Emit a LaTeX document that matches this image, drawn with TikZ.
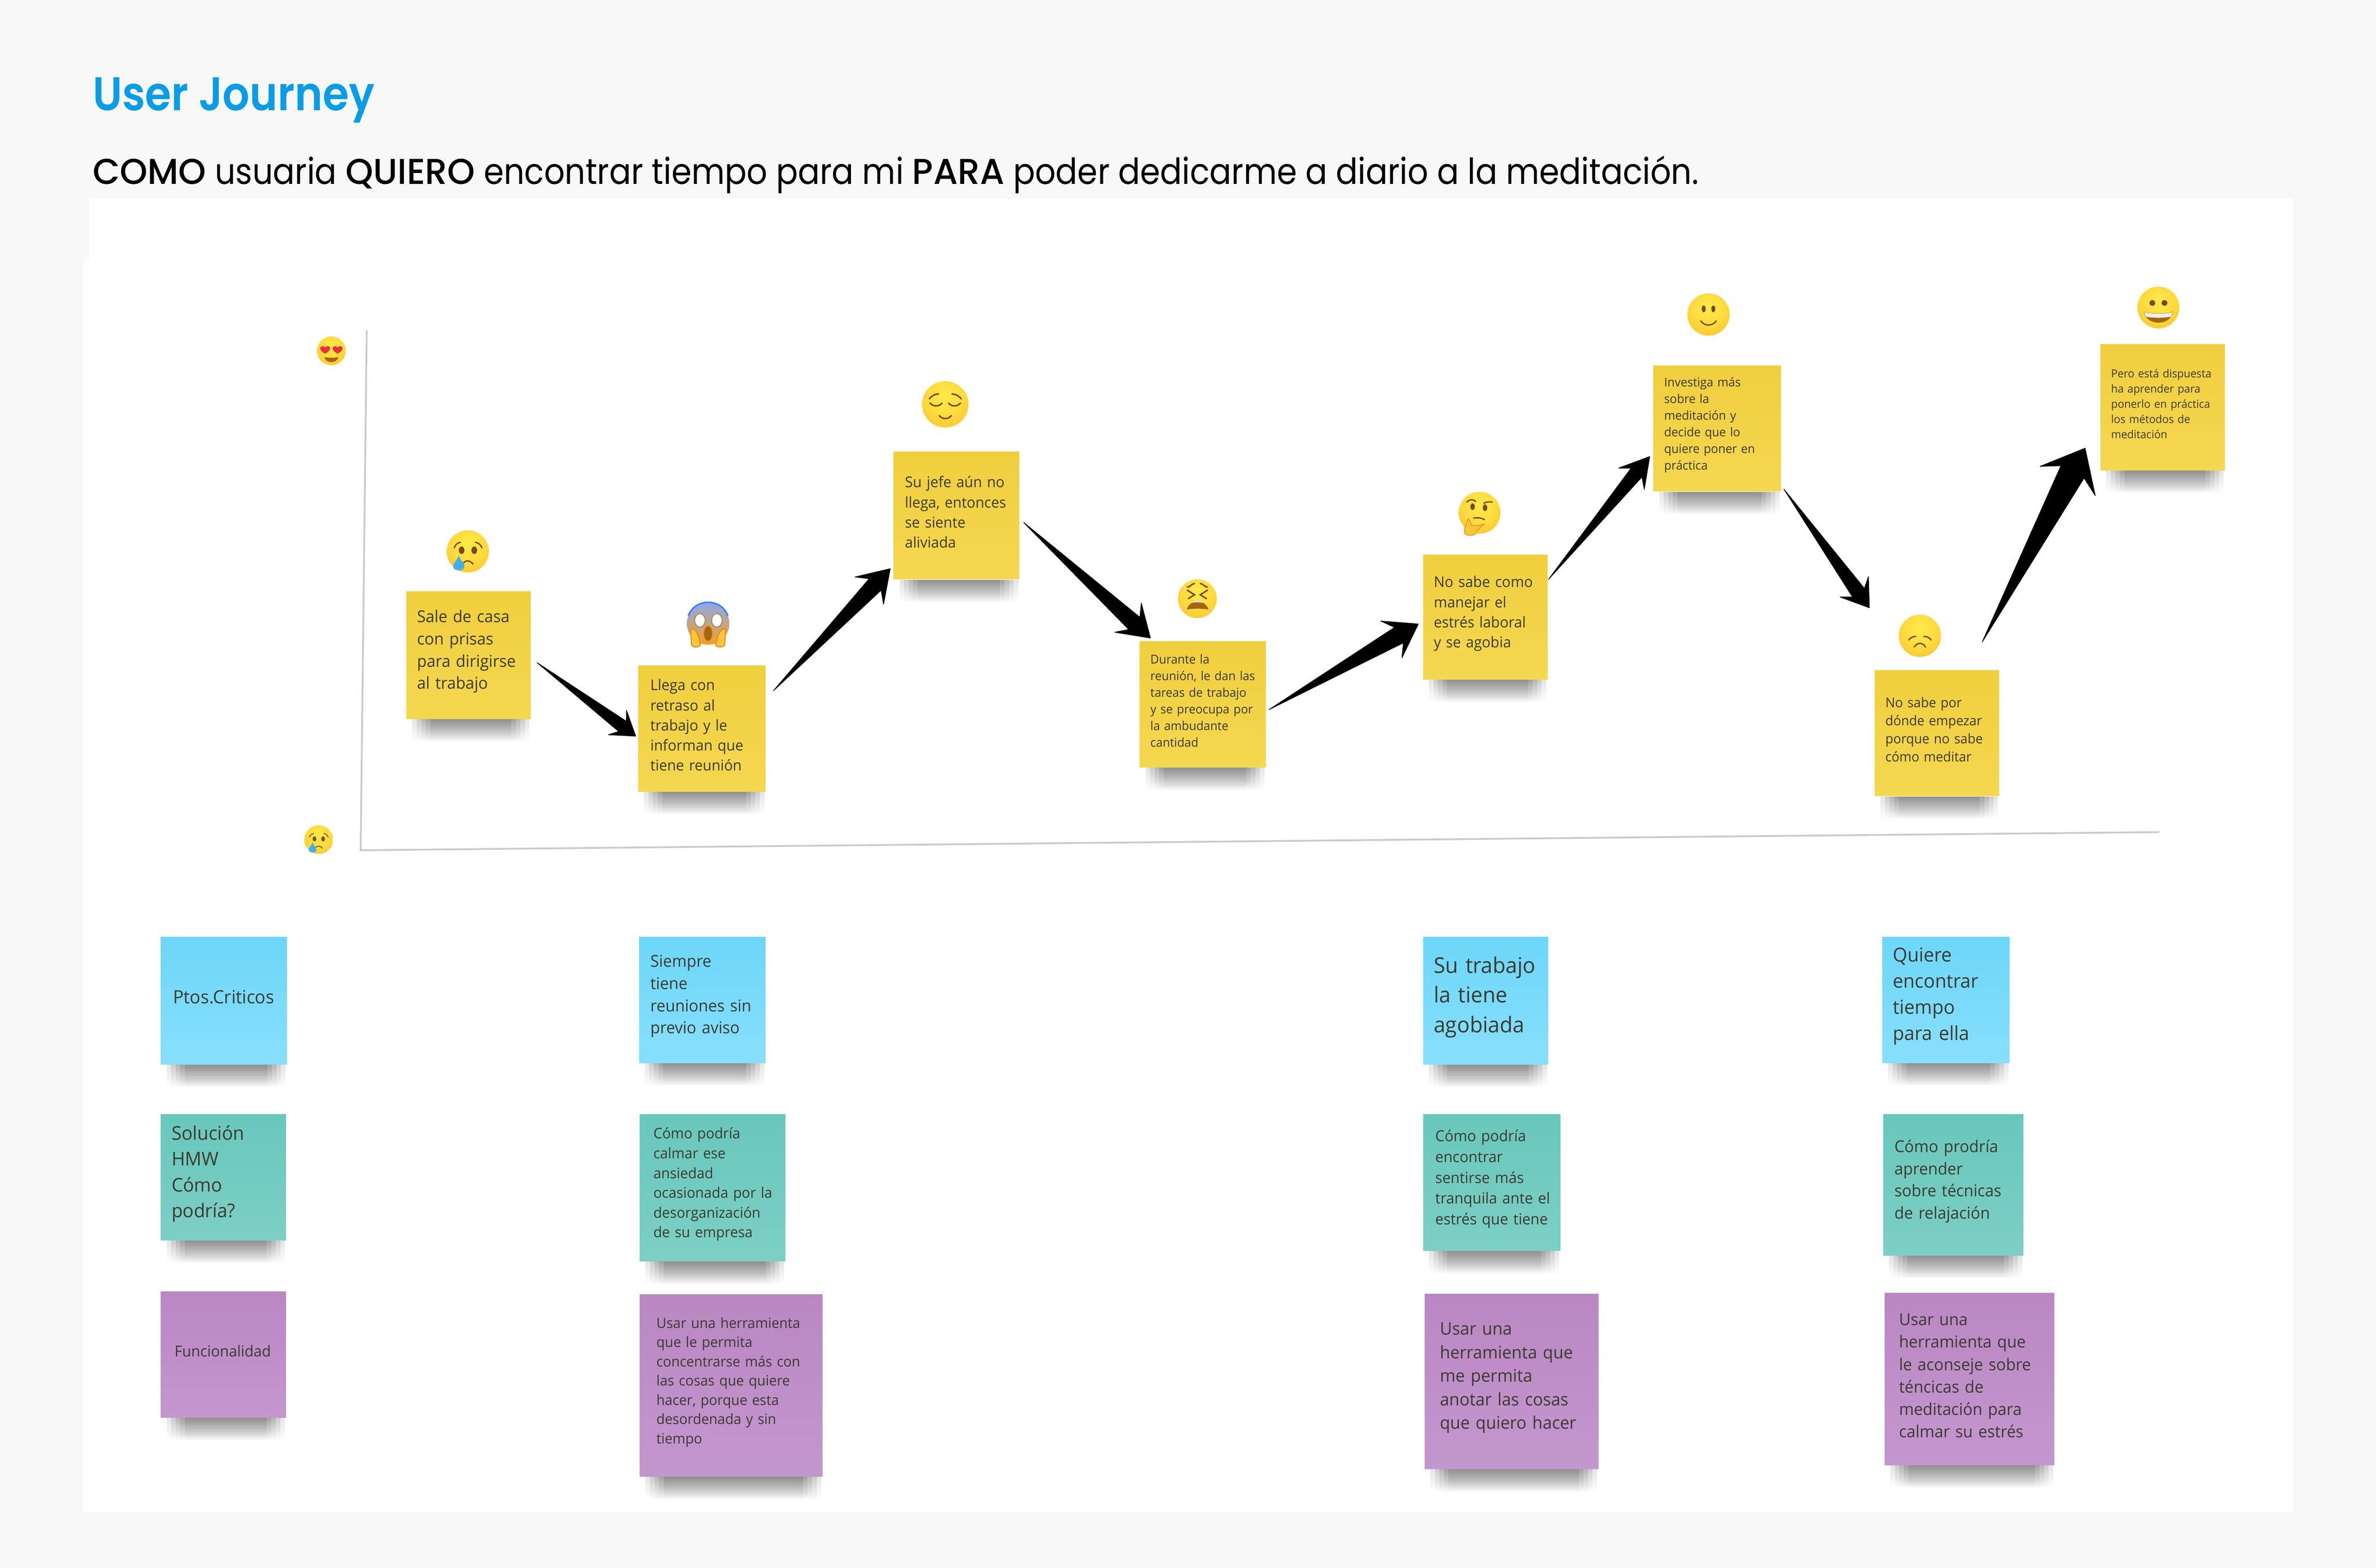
\documentclass[tikz,border=0pt]{standalone}
\usepackage{fontspec}
\usetikzlibrary{calc,fadings}
\newfontfamily\stickyfont{Open Sans}[FakeStretch=0.97]
\newfontfamily\headfont{Poppins}[UprightFont=* SemiBold,FakeStretch=0.894]
\newfontfamily\subfont{Poppins}[FakeStretch=0.9]
\newfontfamily\submedium{Poppins}[UprightFont=* Medium,FakeStretch=0.98]
\newlength{\notepx}
\setlength{\notepx}{0.3261mm}
\definecolor{pagebg}{HTML}{F8F8F8}
\definecolor{titleblue}{HTML}{0A9CE6}
\definecolor{axisgray}{HTML}{CBCBCB}
\definecolor{notetext}{HTML}{3A3A30}
\definecolor{faceline}{HTML}{7A4A12}
\definecolor{mouthbrown}{HTML}{A5650F}
\definecolor{heartred}{HTML}{EA2F3C}
\definecolor{tearblue}{HTML}{45AEEA}
\definecolor{handyellow}{HTML}{FFC53A}
\definecolor{handedge}{HTML}{E08A1E}
\definecolor{faceA}{HTML}{FFEA4A}
\definecolor{faceB}{HTML}{FFDA3E}
\definecolor{faceC}{HTML}{FDBD2E}
\definecolor{faceD}{HTML}{F6A026}
\pgfdeclareradialshading{emojiball}{\pgfpoint{0bp}{10bp}}{color(0bp)=(faceA); color(20bp)=(faceB); color(38bp)=(faceC); color(50bp)=(faceD); color(62bp)=(faceD)}
\tikzfading[name=fadeshadow, top color=transparent!25, middle color=transparent!85, bottom color=transparent!100]
\tikzset{
  sticky/.style n args={3}{anchor=north west, shade, inner sep=0pt, text width=#1\notepx, minimum height=#2\notepx, align=left, text=notetext, execute at begin node={\leftskip=#3\notepx\relax}, execute at end node={\par\nointerlineskip\hbox{\vrule width 0pt height 1.5mm}}},
  fs/.style 2 args={font=\stickyfont\fontsize{#1}{#2}\selectfont},
  yellownote/.style={top color=F1yellow, bottom color=F2yellow},
  bluenote/.style={top color=F1blue, bottom color=F2blue},
  tealnote/.style={top color=F1teal, bottom color=F2teal},
  purplenote/.style={top color=F1purple, bottom color=F2purple},
  noteshade/.style={black, fill opacity=0.14, path fading=fadeshadow},
  axisline/.style={draw=axisgray, line width=1.1pt},
  eyeline/.style={draw=faceline, line cap=round},
  relieved/.pic={
    \emojiball{15.3}
    \draw[eyeline] (-10.5,-3.6) .. controls (-9,-5.8) and (-6.5,-6.8) .. (-4.4,-6.9);
    \draw[eyeline] (10.5,-3.6) .. controls (9,-5.8) and (6.5,-6.8) .. (4.4,-6.9);
    \draw[eyeline] (-10,-0.8) .. controls (-8,1.6) and (-4,1.6) .. (-2.2,-0.8);
    \draw[eyeline] (10,-0.8) .. controls (8,1.6) and (4,1.6) .. (2.2,-0.8);
    \draw[eyeline] (-4,7.4) .. controls (-2,10) and (2,10) .. (4,7.4);
  },
  tearface/.pic={
    \emojiball{15}
    \draw[eyeline] (-9.6,-2.5) .. controls (-9,-4.5) and (-7.5,-6) .. (-5.2,-6.5);
    \draw[eyeline] (10,-2.5) .. controls (9.4,-4.5) and (7.8,-6) .. (5.4,-6.5);
    \fill[faceline] (-4.4,-0.8) circle[x radius=2, y radius=2.7];
    \fill[faceline] (4.6,-0.8) circle[x radius=2, y radius=2.7];
    \draw[eyeline] (-3,8.2) .. controls (-1.5,6.2) and (1.5,6.2) .. (3.8,9);
    \fill[tearblue] (-6.4,2.5) .. controls (-7,6) and (-10.4,8) .. (-10.4,10.5) .. controls (-10.4,14.5) and (-2.4,14.5) .. (-2.4,10.5) .. controls (-2.4,8) and (-5.8,6) .. (-6.4,2.5) -- cycle;
  },
  screamface/.pic={
    \shade[top color=screamtop, middle color=faceB, bottom color=faceD] (0,-1) circle[radius=14];
    \draw[draw=screamrim, line width=1pt] (-13,-6) .. controls (-9,-18) and (9,-18) .. (13,-6);
    \fill[white, draw=gray!70!faceC, line width=.7pt] (-5.4,-3.1) circle[x radius=3.5, y radius=4.5];
    \fill[white, draw=gray!70!faceC, line width=.7pt] (5.8,-3.1) circle[x radius=3.5, y radius=4.5];
    \fill[mouthbrown, draw=handedge, line width=.5pt] (0,5.6) circle[x radius=2.8, y radius=5];
    \draw[draw=handedge, fill=handyellow, line width=.6pt] (-11.5,2.5) .. controls (-8,2) and (-6.5,6) .. (-5,13) .. controls (-6,15) and (-10,15) .. (-11,13) -- cycle;
    \draw[draw=handedge, fill=handyellow, line width=.6pt] (11.5,2.5) .. controls (8,2) and (6.5,6) .. (5,13) .. controls (6,15) and (10,15) .. (11,13) -- cycle;
  },
  tiredface/.pic={
    \emojiball{12.8}
    \draw[eyeline] (-6.7,-5.6) -- (-1.9,-2.6) -- (-6,0);
    \draw[eyeline] (6.7,-5.6) -- (1.9,-2.6) -- (6,0);
    \draw[eyeline] (-6.7,-7.7) .. controls (-5,-7.4) and (-4,-9.8) .. (-1.9,-10);
    \draw[eyeline] (6.7,-7.7) .. controls (5,-7.4) and (4,-9.8) .. (1.9,-10);
    \fill[mouthbrown] (-7,7.2) .. controls (-5,0) and (5,0) .. (7.4,7.2) .. controls (3,6.4) and (-3,6.4) .. cycle;
    \fill[gray!25] (-4.3,3) .. controls (-2,0.8) and (2,0.8) .. (4.6,3) .. controls (2,2.2) and (-2,2.2) .. cycle;
  },
  thinkface/.pic={
    \emojiball{13.8}
    \draw[eyeline] (-8.5,-7) .. controls (-6.5,-9) and (-4,-9) .. (-2.5,-7.4);
    \draw[eyeline] (2.8,-6.1) .. controls (4,-7.2) and (6,-7.4) .. (8.4,-7);
    \fill[faceline] (-4.6,-4) circle[x radius=1.5, y radius=2.2];
    \fill[faceline] (3.6,-3.3) circle[x radius=1.5, y radius=2.2];
    \draw[eyeline] (-3.9,3.6) .. controls (-1.5,3) and (1.5,3.4) .. (3.3,4.6);
    \draw[draw=handedge, fill=handyellow, line width=.4pt] (-7.5,4) .. controls (-8.5,7) and (-10.5,10) .. (-10,13) .. controls (-9.5,15.5) and (-4,15.5) .. (-2.5,13.8) .. controls (-1.5,11.5) and (0,10) .. (3,7.5) .. controls (0,8.4) and (-3,8.6) .. (-5.5,8.4) .. controls (-6,7) and (-6,5) .. (-7.5,4) -- cycle;
  },
  smileface/.pic={
    \emojiball{15}
    \fill[faceline] (-3.4,-4) circle[x radius=1.4, y radius=2.4];
    \fill[faceline] (3.4,-4) circle[x radius=1.4, y radius=2.4];
    \draw[eyeline] (-5.5,4.5) .. controls (-3,8.5) and (3,8.5) .. (5.5,4.5);
  },
  sadface/.pic={
    \emojiball{15}
    \draw[eyeline] (-8,3) .. controls (-6.5,1) and (-4.5,0.3) .. (-2.8,0.5);
    \draw[eyeline] (8,3) .. controls (6.5,1) and (4.5,0.3) .. (2.8,0.5);
    \draw[eyeline] (-4,8) .. controls (-2,4.5) and (2,4.5) .. (4,8);
  },
  grinface/.pic={
    \emojiball{13.8}
    \fill[faceline] (-4,-3) circle[radius=1.9];
    \fill[faceline] (4,-3) circle[radius=1.9];
    \fill[mouthbrown] (-9.7,2.6) .. controls (-6,4.4) and (6,4.4) .. (9.7,2.6) .. controls (8,12.5) and (-8,12.5) .. cycle;
    \fill[white!88!gray] (-9.4,2.9) .. controls (-6,4.5) and (6,4.5) .. (9.4,2.9) .. controls (9,4.5) and (8.6,5.6) .. (8.2,6) .. controls (4,7) and (-4,7) .. (-8.2,6) .. controls (-8.6,5.6) and (-9,4.5) .. cycle;
  },
  loveface/.pic={
    \emojiball{15}
    \foreach \s in {-6.5,6.5}
      \fill[heartred, shift={(\s,-1.6)}] (0,4.5) .. controls (-3,3) and (-5.2,1) .. (-5.2,-1.2) .. controls (-5.2,-3.6) and (-1.5,-4.2) .. (0,-1.8) .. controls (1.5,-4.2) and (5.2,-3.6) .. (5.2,-1.2) .. controls (5.2,1) and (3,3) .. (0,4.5) -- cycle;
    \fill[mouthbrown] (-7.3,6.5) .. controls (-3,7.5) and (3,7.5) .. (7.3,6.5) .. controls (6.5,13.5) and (-6.5,13.5) .. cycle;
  },
}
\definecolor{F1yellow}{HTML}{F0CF3E}
\definecolor{F2yellow}{HTML}{F5D750}
\definecolor{F1blue}{HTML}{6DD6F9}
\definecolor{F2blue}{HTML}{88DFFC}
\definecolor{F1teal}{HTML}{69C7BB}
\definecolor{F2teal}{HTML}{7DCFC5}
\definecolor{F1purple}{HTML}{BA87C3}
\definecolor{F2purple}{HTML}{C496CE}
\definecolor{screamtop}{HTML}{8FA8EC}
\definecolor{screamrim}{HTML}{3F86F0}
\newcommand{\emojiball}[1]{\shade[shading=emojiball] (0,0) circle[radius=#1];}
\newcommand{\taperarrow}[4]{%
  \coordinate (barb) at ($(#2)!#3*0.3261mm!(#1)$);
  \coordinate (neck) at ($(#2)!#3*0.72*0.3261mm!(#1)$);
  \fill[black, draw=black, line width=.4pt, line join=round] (#1) -- ($(neck)!#4*0.42*0.3261mm!90:(#2)$) -- ($(barb)!#4*0.3261mm!90:(#2)$) -- (#2) -- ($(barb)!#4*0.3261mm!-90:(#2)$) -- ($(neck)!#4*0.42*0.3261mm!-90:(#2)$) -- cycle;
}
\begin{document}
\begin{tikzpicture}[x=0.3261mm,y=-0.3261mm]
  \useasboundingbox (0,0) rectangle (1568,1034.4);
  \fill[pagebg] (0,0) rectangle (1568,1034.4);
  \fill[white] (59,131) -- (1513,131) -- (1513,998) -- (55,998) -- (55,171) -- (59,171) -- cycle;
  \node[anchor=base west, inner sep=0pt, text=titleblue, font=\headfont\fontsize{29}{34}\selectfont] (title) at (61,73) {User Journey};
  \node[anchor=base west, inner sep=0pt, text=black, font=\subfont\fontsize{22}{26}\selectfont] (story) at (61,121.5) {{\submedium COMO} usuaria {\submedium QUIERO} encontrar tiempo para mi {\submedium PARA} poder dedicarme a diario a la meditación.};

  \coordinate (axistop) at (242,218);
  \coordinate (axiscorner) at (238,561);
  \coordinate (axisend) at (1425,549);
  \draw[axisline] (axistop) -- (axiscorner) -- (axisend);

  \node[sticky={82}{84}{7}, yellownote, fs={10}{13.6}] (sale) at (268,390) {Sale de casa\\con prisas\\para dirigirse\\al trabajo};
  \node[sticky={84}{83}{8}, yellownote, fs={9.1}{12.3}] (llega) at (421,439) {Llega con\\retraso al\\trabajo y le\\informan que\\tiene reunión};
  \node[sticky={83}{84}{7.5}, yellownote, fs={9.1}{12.3}] (jefe) at (589.5,298) {Su jefe aún no\\llega, entonces\\se siente\\aliviada};
  \node[sticky={83}{83}{7}, yellownote, fs={7.5}{10.2}] (durante) at (752,423) {Durante la\\reunión, le dan las\\tareas de trabajo\\y se preocupa por\\la ambudante\\cantidad};
  \node[sticky={82}{82}{7}, yellownote, fs={9.1}{12.3}] (manejar) at (939,366) {No sabe como\\manejar el\\estrés laboral\\y se agobia};
  \node[sticky={84}{83}{7}, yellownote, fs={7.5}{10.2}] (investiga) at (1091,241) {Investiga más\\sobre la\\meditación y\\decide que lo\\quiere poner en\\práctica};
  \node[sticky={82}{83}{7}, yellownote, fs={8.2}{11.1}] (nosabe) at (1237,442) {No sabe por\\dónde empezar\\porque no sabe\\cómo meditar};
  \node[sticky={82}{83}{7}, yellownote, fs={6.8}{9.3}] (pero) at (1386,227) {Pero está dispuesta\\ha aprender para\\ponerlo en práctica\\los métodos de\\meditación};

  \node[sticky={83}{84}{8}, bluenote, fs={11.2}{15}] (ptos) at (106,618) {Ptos.Criticos};
  \node[sticky={83.5}{83}{7.5}, bluenote, fs={10}{13.6}] (siempre) at (421.5,618) {Siempre\\tiene\\reuniones sin\\previo aviso};
  \node[sticky={82.5}{84}{7}, bluenote, fs={13.3}{18.1}] (agobiada) at (939,618) {Su trabajo\\la tiene\\agobiada};
  \node[sticky={84}{83}{7}, bluenote, fs={11.8}{16}] (quiere) at (1242,618) {Quiere\\encontrar\\tiempo\\para ella};

  \node[sticky={82.5}{83}{7}, tealnote, fs={11.6}{15.8}] (solucion) at (106,735) {Solución\\HMW\\Cómo\\podría?};
  \node[sticky={96}{97}{9}, tealnote, fs={8.9}{12.1}] (calmar) at (422,735) {Cómo podría\\calmar ese\\ansiedad\\ocasionada por la\\desorganización\\de su empresa};
  \node[sticky={90.5}{90}{8}, tealnote, fs={9.3}{12.7}] (tranquila) at (939,735) {Cómo podría\\encontrar\\sentirse más\\tranquila ante el\\estrés que tiene};
  \node[sticky={92.5}{93}{7.4}, tealnote, fs={10}{13.6}] (aprender) at (1242.6,735) {Cómo prodría\\aprender\\sobre técnicas\\de relajación};

  \node[sticky={82.5}{83}{9}, purplenote, fs={9.3}{12.6}] (funcional) at (106,852) {Funcionalidad};
  \node[sticky={120.5}{120}{11}, purplenote, fs={8.7}{11.8}] (concentrarse) at (422,854) {Usar una herramienta\\que le permita\\concentrarse más con\\las cosas que quiere\\hacer, porque esta\\desordenada y sin\\tiempo};
  \node[sticky={114.5}{115.5}{10}, purplenote, fs={10.6}{14.4}] (anotar) at (940,853.5) {Usar una\\herramienta que\\me permita\\anotar las cosas\\que quiero hacer};
  \node[sticky={112}{113.5}{9.5}, purplenote, fs={10.1}{13.7}] (aconseje) at (1243.5,853) {Usar una\\herramienta que\\le aconseje sobre\\téncicas de\\meditación para\\calmar su estrés};

  \foreach \n in {sale,llega,jefe,durante,manejar,investiga,nosabe,pero,ptos,siempre,agobiada,quiere,solucion,calmar,tranquila,aprender,funcional,concentrarse,anotar,aconseje}
    \foreach \i in {1,4,7,10,13}
      \fill[noteshade] ([shift={(\i+3,0)}]\n.south west) rectangle ([shift={(-\i,15)}]\n.south east);

  \coordinate (saleout) at ([shift={(4,5)}]sale.east);
  \coordinate (llegain) at ([shift={(-1.5,5)}]llega.west);
  \coordinate (llegaout) at ([shift={(5,-25)}]llega.east);
  \coordinate (jefein) at ([shift={(-2,35)}]jefe.west);
  \coordinate (jefeout) at ([shift={(2.6,4.5)}]jefe.east);
  \coordinate (durantein) at ([shift={(-34.5,-2)}]durante.north);
  \coordinate (duranteout) at ([shift={(2,3.5)}]durante.east);
  \coordinate (manejarin) at ([shift={(-3,4.5)}]manejar.west);
  \coordinate (manejarout) at ([shift={(.5,-25)}]manejar.east);
  \coordinate (investigain) at ([shift={(-2.3,18.5)}]investiga.west);
  \coordinate (investigaout) at ([shift={(1.8,40)}]investiga.east);
  \coordinate (nosabein) at ([shift={(-44.6,-41)}]nosabe.north);
  \coordinate (nosabeout) at ([shift={(29.9,-18.4)}]nosabe.north);
  \coordinate (peroin) at ([shift={(-10,27)}]pero.west);
  \taperarrow{saleout}{llegain}{15}{10}
  \taperarrow{llegaout}{jefein}{20}{13}
  \taperarrow{jefeout}{durantein}{20}{13}
  \taperarrow{duranteout}{manejarin}{20.5}{14}
  \taperarrow{manejarout}{investigain}{19}{11}
  \taperarrow{investigaout}{nosabein}{17}{11.5}
  \taperarrow{nosabeout}{peroin}{24.5}{20.6}

  \pic[scale=.63, line width=.5pt] (facelove) at (218.7,231.5) {loveface};
  \pic[scale=.63, line width=.5pt] (facecry) at (210.3,554) {tearface};
  \pic[scale=.93, line width=.8pt] (facesale) at (308.7,363.8) {tearface};
  \pic (facescream) at (467.3,412.4) {screamface};
  \pic[line width=.9pt] (facerelieved) at (623.8,266.8) {relieved};
  \pic[line width=.9pt] (facetired) at (790.2,395) {tiredface};
  \pic[line width=.8pt] (facethink) at (976.4,338.3) {thinkface};
  \pic[scale=.93, line width=.8pt] (facesmile) at (1127.5,207.5) {smileface};
  \pic[scale=.93, line width=.8pt] (facesad) at (1267,419.5) {sadface};
  \pic (facegrin) at (1424.4,202.9) {grinface};
\end{tikzpicture}
\end{document}
